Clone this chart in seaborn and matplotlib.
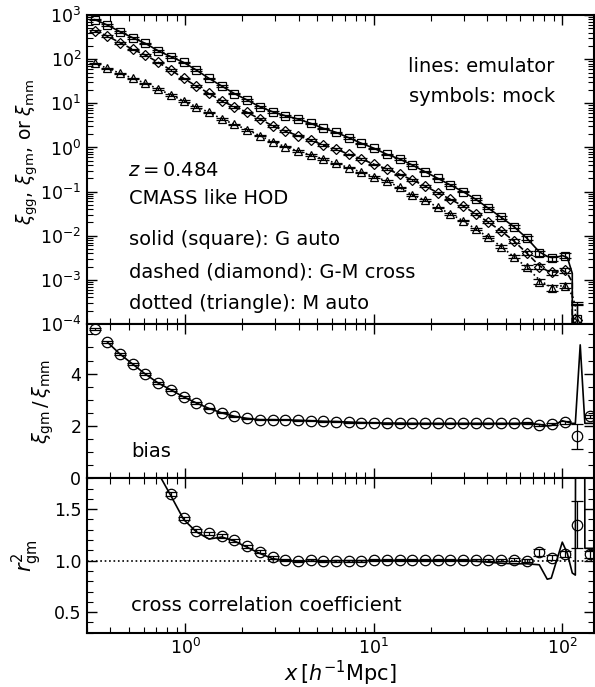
import numpy as np
import pandas as pd
import matplotlib
matplotlib.use("Agg")
from matplotlib import pyplot as plt
from matplotlib import ticker
import seaborn as sns

# bin centres of the mock measurements [h^-1 Mpc]
x_mock = [0.330, 0.386, 0.451, 0.526, 0.614, 0.718, 0.838, 0.979, 1.143, 1.335,
          1.560, 1.822, 2.127, 2.484, 2.901, 3.388, 3.957, 4.622, 5.397, 6.304,
          7.362, 8.598, 10.04, 11.73, 13.70, 16.00, 18.68, 21.82, 25.48, 29.76,
          34.75, 40.59, 47.40, 55.36, 64.66, 75.51, 88.19, 103.0, 120.3, 140.5]

# mock correlation functions (last bin negative -> not drawn on log axis)
xi_gg = [794, 593, 419, 306, 228, 155, 114, 84.7, 56.8, 36.8,
         24.6, 16.6, 11.9, 8.36, 6.44, 5.24, 4.41, 3.52, 2.71, 2.20,
         1.66, 1.24, 0.955, 0.698, 0.547, 0.400, 0.282, 0.200, 0.141, 0.0993,
         0.0668, 0.0418, 0.0261, 0.0160, 0.0089, 0.0040, 0.0031, 0.00355, 1.3e-4, np.nan]
xi_gm = [441, 334, 236, 167, 124, 84.7, 56.8, 36.8, 24.6, 16.8,
         11.3, 8.36, 6.25, 4.41, 3.10, 2.36, 1.85, 1.47, 1.135, 0.920,
         0.698, 0.547, 0.415, 0.324, 0.246, 0.183, 0.134, 0.0942, 0.0668, 0.0471,
         0.0310, 0.0201, 0.0128, 0.00759, 0.00407, 0.0020, 0.00148, 0.00166, 1.2e-4, np.nan]
xi_mm = [80.5, 62.1, 47.9, 36.8, 28.4, 21.1, 15.4, 11.4, 8.36, 6.25,
         4.41, 3.34, 2.52, 1.85, 1.35, 1.04, 0.830, 0.673, 0.547, 0.437,
         0.348, 0.273, 0.217, 0.173, 0.124, 0.0836, 0.0644, 0.0440, 0.0310, 0.0219,
         0.0140, 0.0092, 0.00564, 0.00334, 0.00192, 0.000908, 0.00066, 0.00074, 1.1e-4, np.nan]
# fractional errors of the mock xi's
err_frac = [0.04, 0.04, 0.04, 0.04, 0.04, 0.04, 0.04, 0.04, 0.04, 0.04,
            0.04, 0.04, 0.04, 0.04, 0.04, 0.04, 0.04, 0.04, 0.04, 0.04,
            0.04, 0.04, 0.04, 0.04, 0.04, 0.04, 0.04, 0.04, 0.04, 0.04,
            0.05, 0.06, 0.07, 0.08, 0.10, 0.12, 0.14, 0.14, 1.4, np.nan]

bias_mock = [5.70, 5.20, 4.74, 4.36, 3.98, 3.64, 3.38, 3.11, 2.88, 2.67,
             2.50, 2.37, 2.29, 2.24, 2.24, 2.23, 2.22, 2.20, 2.18, 2.17,
             2.15, 2.13, 2.12, 2.11, 2.11, 2.10, 2.10, 2.10, 2.10, 2.10,
             2.10, 2.10, 2.10, 2.10, 2.11, 2.03, 2.07, 2.14, 1.60, 2.37]
bias_err = [0.04, 0.04, 0.04, 0.04, 0.03, 0.03, 0.03, 0.03, 0.03, 0.03,
            0.02, 0.02, 0.02, 0.02, 0.02, 0.02, 0.02, 0.02, 0.02, 0.02,
            0.02, 0.02, 0.02, 0.02, 0.02, 0.02, 0.02, 0.02, 0.02, 0.02,
            0.02, 0.02, 0.02, 0.02, 0.03, 0.04, 0.04, 0.05, 0.47, 0.05]

r2_mock = [np.nan, np.nan, np.nan, np.nan, np.nan, np.nan, 1.65, 1.41, 1.29, 1.265,
           1.24, 1.20, 1.14, 1.085, 1.035, 1.01, 0.995, 1.01, 0.995, 1.00,
           1.00, 1.00, 1.005, 1.01, 1.01, 1.01, 1.01, 1.01, 1.01, 1.01,
           1.01, 1.01, 1.01, 1.01, 1.00, 1.08, 1.03, 1.065, 1.35, 1.06]
r2_err = [np.nan, np.nan, np.nan, np.nan, np.nan, np.nan, 0.02, 0.015, 0.015, 0.015,
          0.015, 0.015, 0.015, 0.015, 0.015, 0.01, 0.01, 0.01, 0.01, 0.01,
          0.01, 0.01, 0.01, 0.01, 0.01, 0.01, 0.01, 0.01, 0.01, 0.01,
          0.01, 0.01, 0.01, 0.015, 0.015, 0.035, 0.025, 0.03, 0.23, 0.03]

# emulator: same bins as the mock up to ~65 Mpc/h, finer sampling in the tail
x_tail = [75.5, 83.2, 87.4, 94.0, 100.0, 106.4, 113.0, 117.3, 124.5, 131.8, 148.0]
gg_tail = [4.3e-3, 3.4e-3, 3.2e-3, 3.25e-3, 3.55e-3, 3.2e-3, 1.4e-3, -1e-3, -1e-3, -1e-3, -1e-3]
gm_tail = [2.1e-3, 1.6e-3, 1.5e-3, 1.5e-3, 1.65e-3, 1.4e-3, 8.9e-4, -1e-3, -1e-3, -1e-3, -1e-3]
mm_tail = [1.0e-3, 7.6e-4, 6.8e-4, 6.9e-4, 7.4e-4, 6.3e-4, 4.5e-4, 2.5e-4, -1e-3, -1e-3, -1e-3]
bias_tail = [2.06, 2.00, 2.02, 2.10, 2.20, 2.15, 2.10, 2.10, 5.10, 2.10, 2.10]
r2_emu_head = [1.85, 1.63, 1.40, 1.28, 1.21, 1.23, 1.19, 1.13, 1.07, 1.02,
               1.00, 0.995, 0.995, 0.995, 1.00, 1.00, 1.00, 1.00, 1.00, 1.00,
               1.00, 1.00, 1.00, 1.00, 1.00, 0.995, 0.985, 0.975, 0.97, 0.97]
r2_tail = [0.96, 0.82, 0.83, 1.02, 1.18, 1.07, 0.88, 0.86, 30.0, 1.12, 1.12]

sns.set_style("ticks")
plt.rcParams['font.family'] = ['DejaVu Sans']
plt.rcParams['mathtext.fontset'] = 'dejavusans'
for key in ['text.color', 'axes.labelcolor', 'axes.edgecolor', 'xtick.color', 'ytick.color']:
    plt.rcParams[key] = 'black'

mock = pd.DataFrame({'x': x_mock, 'gg': xi_gg, 'gm': xi_gm, 'mm': xi_mm, 'err': err_frac,
                     'bias': bias_mock, 'bias_err': bias_err, 'r2': r2_mock, 'r2_err': r2_err})
emu = pd.DataFrame({'x': x_mock[:35] + x_tail,
                    'gg': xi_gg[:35] + gg_tail,
                    'gm': xi_gm[:35] + gm_tail,
                    'mm': xi_mm[:35] + mm_tail})

fig, axes = plt.subplots(3, 1, sharex=True, figsize=(5.95, 6.87), dpi=100,
                         gridspec_kw={'height_ratios': [2, 1, 1], 'hspace': 0})
fig.subplots_adjust(left=0.146, right=0.998, top=0.978, bottom=0.079)
ax0, ax1, ax2 = axes

ebkw = dict(mfc='none', mec='k', mew=0.9, ecolor='k', elinewidth=0.9, capsize=4.5, capthick=0.9, ls='none')

# top: correlation functions
for col, ls, mk, ms in [('gg', '-', 's', 6), ('gm', '--', 'D', 5.5), ('mm', ':', '^', 6)]:
    sns.lineplot(data=emu, x='x', y=col, ax=ax0, color='k', lw=1.2, linestyle=ls,
                 estimator=None, sort=False)
    ax0.errorbar(mock['x'], mock[col], yerr=mock[col] * mock['err'], marker=mk, ms=ms, **ebkw)

# middle: bias
sns.lineplot(x=x_mock[1:35] + x_tail, y=bias_mock[1:35] + bias_tail, ax=ax1, color='k', lw=1.2,
             estimator=None, sort=False)
ax1.errorbar(mock['x'], mock['bias'], yerr=mock['bias_err'], marker='o', ms=7.5, **ebkw)

# bottom: cross correlation coefficient
sns.lineplot(x=x_mock[5:35] + x_tail, y=r2_emu_head + r2_tail, ax=ax2, color='k', lw=1.2,
             estimator=None, sort=False)
ax2.errorbar(mock['x'], mock['r2'], yerr=mock['r2_err'], marker='o', ms=7.5, **ebkw)
ax2.axhline(1.0, color='k', ls=':', lw=1.2)

ax0.set_xscale('log')
ax0.set_yscale('log')
ax0.set_xlim(0.3, 147)
ax0.set_ylim(1e-4, 1e3)
ax0.yaxis.set_major_locator(ticker.LogLocator(base=10, numticks=20))
ax0.yaxis.set_minor_locator(ticker.LogLocator(base=10, subs=np.arange(2, 10), numticks=20))
ax1.set_ylim(0, 5.9)
ax1.yaxis.set_major_locator(ticker.MultipleLocator(2))
ax1.yaxis.set_minor_locator(ticker.MultipleLocator(0.5))
ax2.set_ylim(0.3, 1.8)
ax2.yaxis.set_major_locator(ticker.MultipleLocator(0.5))
ax2.yaxis.set_minor_locator(ticker.MultipleLocator(0.1))

for ax in axes:
    ax.tick_params(which='both', direction='in', top=True, right=True, labelsize=12.5)
    ax.tick_params(which='major', length=7, width=1, pad=4)
    ax.tick_params(which='minor', length=4, width=0.8)
    for sp in ax.spines.values():
        sp.set_linewidth(1.5)
    ax.set_xlabel('')

ax0.set_ylabel(r'$\xi_{\rm gg},\,\xi_{\rm gm},\,{\rm or}\;\xi_{\rm mm}$', fontsize=13.5)
ax0.yaxis.set_label_coords(-0.093, 0.557)
ax1.set_ylabel(r'$\xi_{\rm gm}\,/\,\xi_{\rm mm}$', fontsize=14)
ax1.yaxis.set_label_coords(-0.06, 0.5)
ax2.set_ylabel(r'$r^2_{\rm gm}$', fontsize=15)
ax2.yaxis.set_label_coords(-0.085, 0.5)
ax2.set_xlabel(r'$x\,[h^{-1}{\rm Mpc}]$', fontsize=15, labelpad=0)

tkw = dict(fontsize=14, va='center')
ax0.text(0.923, 0.832, 'lines: emulator', transform=ax0.transAxes, ha='right', **tkw)
ax0.text(0.923, 0.735, 'symbols: mock', transform=ax0.transAxes, ha='right', **tkw)
ax0.text(0.081, 0.498, r'$z=0.484$', transform=ax0.transAxes, **tkw)
ax0.text(0.083, 0.405, 'CMASS like HOD', transform=ax0.transAxes, **tkw)
ax0.text(0.083, 0.272, 'solid (square): G auto', transform=ax0.transAxes, **tkw)
ax0.text(0.083, 0.168, 'dashed (diamond): G-M cross', transform=ax0.transAxes, **tkw)
ax0.text(0.083, 0.065, 'dotted (triangle): M auto', transform=ax0.transAxes, **tkw)
ax1.text(0.087, 0.174, 'bias', transform=ax1.transAxes, **tkw)
ax2.text(0.087, 0.174, 'cross correlation coefficient', transform=ax2.transAxes, **tkw)

fig.savefig('out.png', dpi=100)
plt.close(fig)
